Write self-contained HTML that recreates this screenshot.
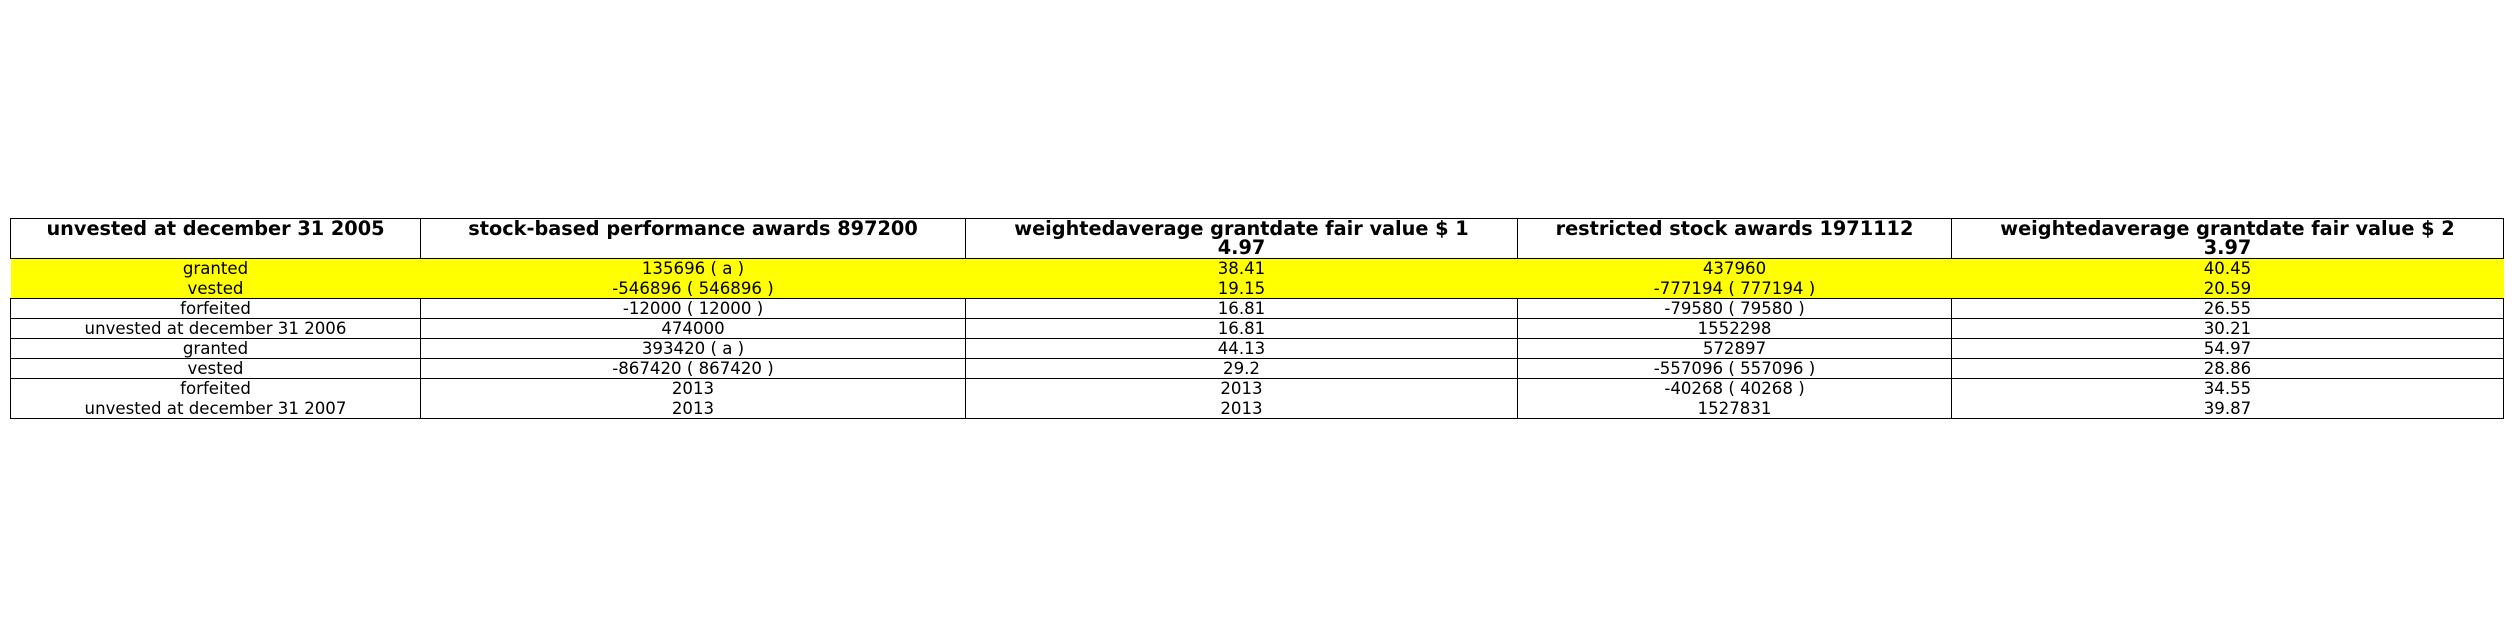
<!DOCTYPE html>
<html><head><meta charset="utf-8"><style>
html,body{margin:0;padding:0;background:#fff;width:2512px;height:636px;overflow:hidden}
table{position:absolute;left:10px;top:218px;border-collapse:collapse;table-layout:fixed;width:2493px;font-family:"DejaVu Sans","Liberation Sans",sans-serif;font-size:16.6px;color:#000}
td,th{border:1px solid #000;padding:0;text-align:center;line-height:19px;overflow:hidden;white-space:nowrap}
th{font-weight:bold;font-size:19.3px;height:39px;vertical-align:top;line-height:19px;padding-top:0}
tr.y td{background:#ffff00;border-left:none;border-right:none;height:39px;line-height:19.5px}
tr.r td{height:19px;line-height:18px}
tr.d td{height:39px;line-height:19.5px}
</style></head><body>
<table>
<colgroup><col style="width:410px"><col style="width:545px"><col style="width:552px"><col style="width:434px"><col style="width:552px"></colgroup>
<tr>
<th>unvested at december 31 2005</th>
<th>stock-based performance awards 897200</th>
<th>weightedaverage grantdate fair value $ 1<br>4.97</th>
<th>restricted stock awards 1971112</th>
<th>weightedaverage grantdate fair value $ 2<br>3.97</th>
</tr>
<tr class="y">
<td>granted<br>vested</td><td>135696 ( a )<br>-546896 ( 546896 )</td><td>38.41<br>19.15</td><td>437960<br>-777194 ( 777194 )</td><td>40.45<br>20.59</td>
</tr>
<tr class="r"><td>forfeited</td><td>-12000 ( 12000 )</td><td>16.81</td><td>-79580 ( 79580 )</td><td>26.55</td></tr>
<tr class="r"><td>unvested at december 31 2006</td><td>474000</td><td>16.81</td><td>1552298</td><td>30.21</td></tr>
<tr class="r"><td>granted</td><td>393420 ( a )</td><td>44.13</td><td>572897</td><td>54.97</td></tr>
<tr class="r"><td>vested</td><td>-867420 ( 867420 )</td><td>29.2</td><td>-557096 ( 557096 )</td><td>28.86</td></tr>
<tr class="d"><td>forfeited<br>unvested at december 31 2007</td><td>2013<br>2013</td><td>2013<br>2013</td><td>-40268 ( 40268 )<br>1527831</td><td>34.55<br>39.87</td></tr>
</table>
</body></html>
